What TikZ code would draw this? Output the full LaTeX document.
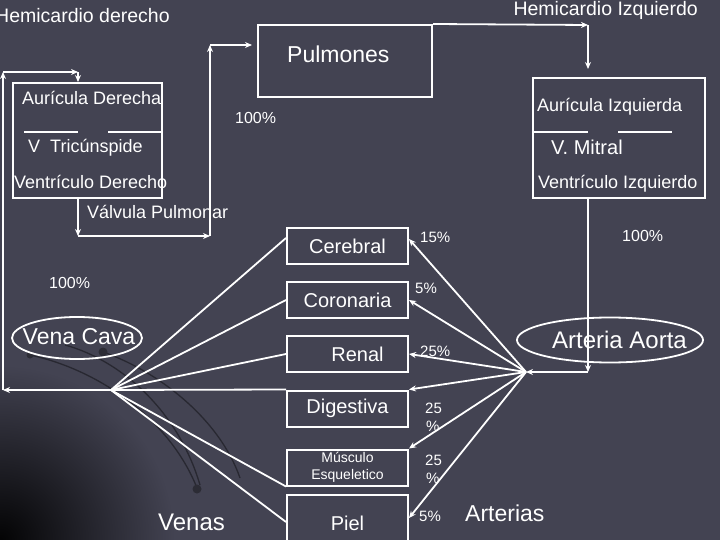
\documentclass[tikz,border=0pt]{standalone}
\usepackage{fontspec}
\setmainfont{Liberation Sans}
\usetikzlibrary{arrows.meta}
\definecolor{fondo}{RGB}{67,67,82}
\tikzset{
	% boxes, texts and connectors of the circulation scheme
	caja/.style={draw=white,line width=2bp,inner sep=0,text=white},
	medio/.style={caja,minimum width=121bp,minimum height=36bp,font=\fontsize{20bp}{24bp}\selectfont},
	texto/.style={inner sep=0,anchor=base west,text=white,font=\fontsize{18bp}{22bp}\selectfont},
	pct/.style={inner sep=0,anchor=base west,text=white,font=\fontsize{15bp}{18bp}\selectfont},
	flecha/.style={draw=white,line width=1.8bp,-{Stealth[length=7bp,width=6bp]}},
	linea/.style={draw=white,line width=1.8bp},
	arco/.style={draw=black!40!fondo,line width=1.3bp}
}
\begin{document}
\begin{tikzpicture}[x=1bp,y=-1bp]
	% macro for the percentage labels
	\newcommand{\porcentaje}[3]{\node[pct](#1) at (#2){#3};}
	
	\useasboundingbox (0,0) rectangle (720,540);
	\clip (0,0) rectangle (720,540);
	\fill[fondo] (0,0) rectangle (720,540);
	\shade[inner color=black!95!fondo,outer color=fondo] (0,540) circle (175bp);
	
	% background arcs
	\draw[arco] (30,355) .. controls (100,370) and (170,420) .. (197,488);
	\draw[arco] (65,345) .. controls (120,360) and (178,410) .. (200,485);
	\draw[arco] (103,352) .. controls (160,372) and (220,420) .. (240,478);
	\fill[black!35!fondo] (30,355) circle (3.5bp) (103,352) circle (4.5bp) (197,489) circle (4.5bp);
	
	% titles
	\node[texto,font=\fontsize{19.5bp}{23bp}\selectfont](hder) at (-5,23){Hemicardio derecho};
	\node[texto,anchor=base east,font=\fontsize{19.5bp}{23bp}\selectfont](hizq) at (698,16){Hemicardio Izquierdo};
	
	% heart and lungs
	\node[caja,minimum width=149bp,minimum height=115bp](ad) at (87.5,140.5){};
	\node[texto](adtxt) at (22,105){Aurícula Derecha};
	\draw[linea] (24,132) -- (78,132) (108,132) -- (ad.east |- 0,132);
	\node[texto](vtri) at (28,153){V\ \ Tricúnspide};
	\node[texto](vdtxt) at (14,189){Ventrículo Derecho};
	\node[texto](vpul) at (87,219){Válvula Pulmonar};
	
	\node[caja,minimum width=174bp,minimum height=72bp](pulm) at (345,61){};
	\node[texto,font=\fontsize{23bp}{27bp}\selectfont](pulmtxt) at (287,63){Pulmones};
	
	\node[caja,minimum width=172bp,minimum height=120bp](ai) at (619,138){};
	\node[texto](aitxt) at (537,112){Aurícula Izquierda};
	\draw[linea] (ai.west |- 0,132) -- (588,132) (618,132) -- (672,132);
	\node[texto,font=\fontsize{20bp}{24bp}\selectfont](vmit) at (551,155){V. Mitral};
	\node[texto](vitxt) at (538,189){Ventrículo Izquierdo};
	
	% organs
	\node[medio](cer) at (347.5,246){Cerebral};
	\node[medio](cor) at (347.5,300){Coronaria};
	\node[medio](ren) at (347.5,354){\hspace{20bp}Renal};
	\node[medio](dig) at (347.5,408.5){Digestiva};
	\node[medio,align=center,font=\fontsize{14bp}{17bp}\selectfont](mus) at (347.5,467.5){Músculo\\Esqueletico};
	\node[medio,minimum height=56bp](piel) at (347.5,523){Piel};
	
	% vena cava and aorta
	\node[texto,anchor=center,font=\fontsize{23bp}{27bp}\selectfont](vcava) at (79,337){Vena Cava};
	\draw[linea] (77,338) ellipse (65bp and 21bp);
	\node[texto,anchor=center,font=\fontsize{24bp}{28bp}\selectfont](aorta) at (619.5,340){Arteria Aorta};
	\draw[linea] (610,340) ellipse (93bp and 22.5bp);
	
	\coordinate (vhub) at (111,390);
	\coordinate (ahub) at (526,372);
	\coordinate (esq1) at (3,390);
	\coordinate (esq2) at (3,72);
	\coordinate (esq3) at (78,72);
	\coordinate (esq4) at (78,236);
	\coordinate (esq5) at (210,236);
	\coordinate (esq6) at (210,45);
	\coordinate (esq7) at (588,25);
	\coordinate (esq8) at (588,372);
	
	% pulmonary loop
	\draw[flecha] (vhub) -- (esq1);
	\draw[flecha] (esq1) -- (esq2);
	\draw[flecha] (esq2) -- (esq3);
	\draw[flecha] (esq3) -- (ad.north -| esq3);
	\draw[flecha] (ad.south -| esq3) -- (esq4);
	\draw[flecha] (esq4) -- (esq5);
	\draw[flecha] (esq5) -- (esq6);
	\draw[flecha,shorten >=5bp] (esq6) -- (pulm.west |- esq6);
	\draw[flecha] (pulm.north east) -- (esq7);
	\draw[flecha,shorten >=8bp] (esq7) -- (ai.north -| esq7);
	\draw[flecha] (ai.south -| esq7) -- (esq8);
	\draw[flecha] (esq8) -- (ahub);
	
	% arteries
	\draw[flecha] (ahub) -- ([yshift=7bp]cer.east);
	\draw[flecha] (ahub) -- (cor.east);
	\draw[flecha] (ahub) -- (ren.east);
	\draw[flecha] (ahub) -- (dig.north east);
	\draw[flecha] (ahub) -- (mus.north east);
	\draw[flecha] (ahub) -- ([yshift=5bp]piel.east);
	
	% veins
	\draw[linea] ([yshift=8bp]cer.west) -- (vhub);
	\draw[linea] (cor.west) -- (vhub);
	\draw[linea] (ren.west) -- (vhub);
	\draw[linea] (dig.north west) -- (vhub);
	\draw[linea] (mus.south west) -- (vhub);
	\draw[linea] ([yshift=1bp]piel.west) -- (vhub);
	
	\porcentaje{p1}{420,243}{15\%}
	\porcentaje{p2}{415,293}{5\%}
	\porcentaje{p3}{420,356}{25\%}
	\porcentaje{p4}{425,413}{25}
	\porcentaje{p4b}{426,431}{\%}
	\porcentaje{p5}{425,465}{25}
	\porcentaje{p5b}{426,483}{\%}
	\porcentaje{p6}{419,521}{5\%}
	\node[pct,font=\fontsize{16bp}{19bp}\selectfont](cien1) at (235,124){100\%};
	\node[pct,font=\fontsize{16bp}{19bp}\selectfont](cien2) at (49,288){100\%};
	\node[pct,font=\fontsize{16bp}{19bp}\selectfont](cien3) at (622,242){100\%};
	
	\node[texto,font=\fontsize{24bp}{28bp}\selectfont](venas) at (158,530.5){Venas};
	\node[texto,font=\fontsize{23bp}{27bp}\selectfont](arterias) at (465,521.5){Arterias};
\end{tikzpicture}
\end{document}
